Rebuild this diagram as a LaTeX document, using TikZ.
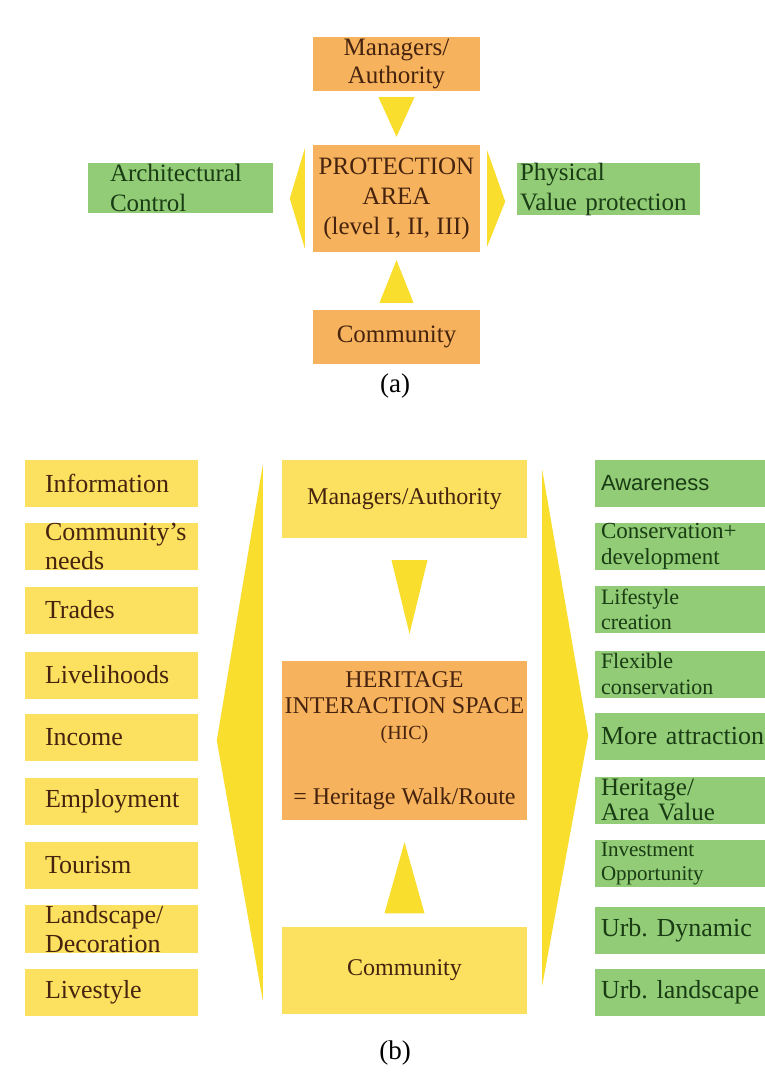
\documentclass[tikz,border=0pt]{standalone}
\usepackage{fontspec}
\setmainfont{Liberation Serif}
\setsansfont{Liberation Sans}
\usetikzlibrary{calc}
\frenchspacing
\definecolor{boxorange}{RGB}{246,178,92}
\definecolor{boxyellow}{RGB}{251,225,95}
\definecolor{boxgreen}{RGB}{146,204,118}
\definecolor{pointeryellow}{RGB}{250,222,45}
\definecolor{txtbrown}{RGB}{70,35,15}
\definecolor{txtgreen}{RGB}{25,60,20}
\tikzset{
  orangebox/.style={rectangle, fill=boxorange, text=txtbrown, inner sep=0pt, align=center},
  yellowbox/.style={rectangle, fill=boxyellow, text=txtbrown, inner sep=0pt, align=center},
  greenbox/.style={rectangle, fill=boxgreen, text=txtgreen, inner ysep=0pt, align=left, font=\fontsize{25}{30}\selectfont},
  sidebox/.style={rectangle, fill=boxyellow, text=txtbrown, inner ysep=0pt, inner xsep=20pt, text width=133pt, minimum height=47pt, align=left,
    execute at begin node={\hyphenpenalty=10000\exhyphenpenalty=10000}},
  effectbox/.style={rectangle, fill=boxgreen, text=txtgreen, inner ysep=0pt, inner xsep=6pt, text width=163pt, minimum height=47pt, align=left,
    execute at begin node={\hyphenpenalty=10000\exhyphenpenalty=10000}},
  pointer/.style={fill=pointeryellow},
  caption/.style={font=\fontsize{27}{30}\selectfont}
}

\begin{document}
\begin{tikzpicture}[x=1pt, y=-1pt]
  \useasboundingbox[fill=white] (0,0) rectangle (764,1086);

  % (a) protection area
  \node[orangebox, minimum width=167pt, minimum height=54pt, font=\fontsize{25}{28}\selectfont] (mgrA) at (396.5,64) {Managers/\\Authority};
  \node[orangebox, minimum width=167pt, minimum height=107pt, font=\fontsize{25}{30}\selectfont] (protA) at (396.5,198.5) {PROTECTION\\AREA\\(level I, II, III)};
  \node[orangebox, minimum width=167pt, minimum height=54pt, font=\fontsize{25}{30}\selectfont] (commA) at (396.5,337) {Community};
  \node[greenbox, text width=141pt, inner xsep=22pt, minimum height=50pt] (archA) at (180.5,188) {Architectural\\Control};
  \node[greenbox, text width=177pt, inner xsep=3pt, minimum height=52pt] (physA) at (608.5,189) {Physical\\Value protection};

  \fill[pointer] ($(mgrA.south)+(-18,6)$) -- ($(mgrA.south)+(18,6)$) -- ($(protA.north)+(0,-8)$) -- cycle;
  \fill[pointer] ($(commA.north)+(-17,-7)$) -- ($(commA.north)+(17,-7)$) -- ($(protA.south)+(0,8)$) -- cycle;
  \fill[pointer] ($(protA.west)+(-8,-50)$) -- ($(protA.west)+(-8,50)$) -- ($(protA.west)+(-23,0)$) -- cycle;
  \fill[pointer] ($(protA.east)+(7,-48)$) -- ($(protA.east)+(7,48)$) -- ($(protA.east)+(25,3)$) -- cycle;

  \node[caption] (capA) at (395,386) {(a)};

  % (b) heritage interaction space
  \node[yellowbox, minimum width=245pt, minimum height=78pt, font=\fontsize{24}{26}\selectfont] (mgrB) at (404.5,499) {Managers/Authority};
  \node[orangebox, minimum width=245pt, minimum height=159pt, font=\fontsize{24}{26}\selectfont] (hicB) at (404.5,740.5) {HERITAGE\\INTERACTION SPACE\\{\fontsize{20}{26}\selectfont(HIC)}\\[39pt]= Heritage Walk/Route};
  \node[yellowbox, minimum width=245pt, minimum height=87pt, font=\fontsize{24}{26}\selectfont] (commB) at (404.5,970) {Community};

  \fill[pointer] ($(mgrB.south)+(-13,22)$) -- ($(mgrB.south)+(23,22)$) -- ($(hicB.north)+(5,-27)$) -- cycle;
  \fill[pointer] ($(commB.north)+(-20,-13)$) -- ($(commB.north)+(20,-13)$) -- ($(hicB.south)+(0,22)$) -- cycle;
  \fill[pointer] ($(mgrB.north west)+(-19,5)$) -- ($(hicB.west)+(-65,0)$) -- ($(commB.south west)+(-19,-13)$) -- cycle;
  \fill[pointer] ($(mgrB.north east)+(15,10)$) -- ($(hicB.east)+(61,-5)$) -- ($(commB.south east)+(15,-28)$) -- cycle;

  \foreach \name/\y/\txt in {l1/483/Information, l2/546/{Community's\\needs}, l3/610/Trades,
                             l4/675/Livelihoods, l5/737/Income, l6/801/Employment,
                             l7/865/Tourism, l8/929/{Landscape/\\Decoration}, l9/992.5/Livestyle} {
    \node[sidebox, font=\fontsize{26}{29}\selectfont] (\name) at (111.5,\y) {\txt};
  }

  \foreach \name/\y/\fs/\txt in {r1/483/{\sffamily\fontsize{22}{24}\selectfont}/Awareness,
                                 r2/546/{\fontsize{23}{26}\selectfont}/{Conservation+\\development},
                                 r3/609/{\fontsize{22}{25}\selectfont}/{Lifestyle\\creation},
                                 r4/674/{\fontsize{22}{26}\selectfont}/{Flexible\\conservation},
                                 r5/736/{\fontsize{26}{28}\selectfont}/{\mbox{More attraction}},
                                 r6/800/{\fontsize{25}{25}\selectfont}/{Heritage/\\Area Value},
                                 r7/863.5/{\fontsize{21}{24}\selectfont}/{Investment\\Opportunity},
                                 r8/930/{\fontsize{26}{28}\selectfont}/{\mbox{Urb. Dynamic}},
                                 r9/992.5/{\fontsize{26}{28}\selectfont}/{\mbox{Urb. landscape}}} {
    \node[effectbox, font=\fs] (\name) at (682.5,\y) {\txt};
  }

  \node[caption] (capB) at (395,1053) {(b)};
\end{tikzpicture}
\end{document}
